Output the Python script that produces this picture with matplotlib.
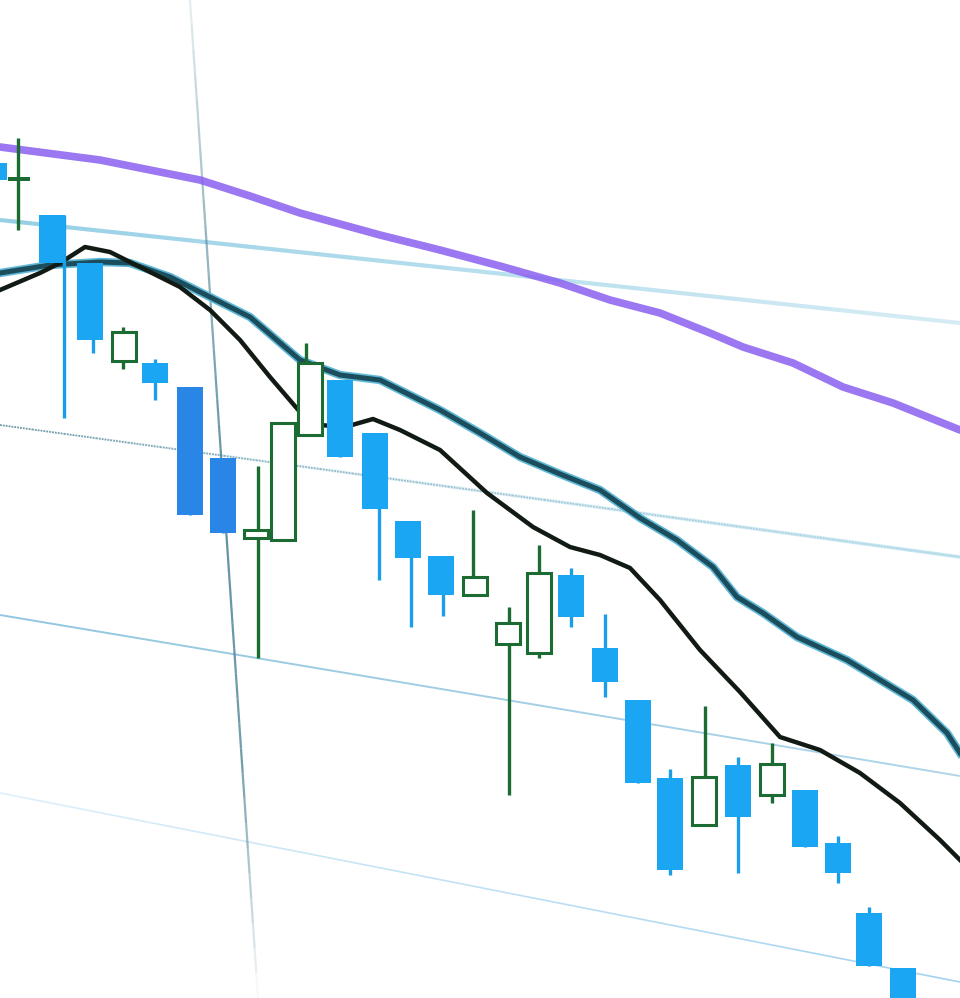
import matplotlib.pyplot as plt
import numpy as np
from matplotlib.collections import LineCollection
from matplotlib.colors import to_rgba

# screen-space candle values (y grows downward)
candle_x = [-6, 19, 52, 90, 124, 155, 190, 223, 256, 283, 310, 340, 375, 408, 441,
            475, 508, 539, 571, 605, 638, 670, 704, 738, 772, 805, 838, 869, 903]
wick_x = [-6, 18, 64, 93, 123, 155, 190, 223, 258, 283, 306, 340, 379, 411, 443,
          473, 509, 539, 571, 605, 638, 670, 705, 738, 772, 805, 838, 869, 903]
body_top = [163, 177, 215, 263, 332, 363, 387, 458, 530, 423, 363, 380, 433, 521, 556,
            577, 623, 573, 575, 648, 700, 778, 777, 765, 764, 790, 843, 913, 968]
body_bot = [180, 181, 263, 340, 361, 383, 515, 533, 538, 540, 435, 457, 509, 558, 595,
            595, 644, 653, 617, 682, 783, 870, 825, 817, 795, 847, 873, 966, 1010]
wick_top = [160, 138, 215, 263, 327, 359, 387, 458, 466, 423, 343, 380, 433, 521, 556,
            510, 607, 545, 568, 614, 700, 769, 706, 757, 743, 790, 836, 907, 968]
wick_bot = [183, 230, 418, 353, 369, 400, 515, 533, 658, 540, 435, 457, 580, 627, 616,
            595, 795, 658, 627, 697, 783, 875, 825, 873, 803, 847, 883, 966, 1010]
kind = ['down', 'cross', 'down', 'down', 'up', 'down', 'dark', 'dark', 'up', 'up', 'up',
        'down', 'down', 'down', 'down', 'up', 'up', 'up', 'down', 'down', 'down', 'down',
        'up', 'down', 'up', 'down', 'down', 'down', 'down']

# moving averages
purple_x = [0, 100, 200, 250, 300, 380, 440, 500, 560, 610, 660, 710, 743, 793, 843, 893, 960]
purple_y = [147, 160, 180, 196, 213, 235, 250, 266, 283, 300, 313, 333, 347, 363, 387, 403, 430]

teal_x = [0, 50, 100, 130, 170, 210, 250, 300, 340, 380, 400, 440, 480, 520, 560, 600,
          640, 677, 713, 737, 763, 797, 847, 880, 913, 947, 960]
teal_y = [273, 265, 262, 263, 277, 297, 317, 360, 375, 380, 390, 410, 433, 457, 474, 490,
          518, 540, 567, 597, 613, 637, 660, 680, 700, 733, 753]

black_x = [0, 40, 60, 85, 110, 140, 180, 210, 240, 270, 300, 320, 345, 373, 400, 440, 487,
           533, 570, 600, 630, 660, 700, 740, 780, 820, 860, 900, 940, 960]
black_y = [290, 273, 263, 247, 252, 267, 287, 310, 340, 377, 412, 425, 427, 419, 430, 450,
           493, 527, 547, 555, 568, 600, 650, 692, 737, 750, 773, 803, 840, 860]

# tilted grid lines (left edge y, right edge y)
grid_left = [220, 425, 615, 793]
grid_right = [323, 557, 776, 982]
vgrid_top, vgrid_bot = 190, 258

fig = plt.figure(figsize=(9.6, 9.98), dpi=100)
ax = fig.add_axes([0, 0, 1, 1])
ax.set_xlim(0, 960)
ax.set_ylim(998, 0)
ax.axis('off')


def fade_line(x0, y0, x1, y1, color, lw, alphas, ls='-', z=1):
    n = len(alphas)
    xs = np.linspace(x0, x1, n + 1)
    ys = np.linspace(y0, y1, n + 1)
    segs = [[(xs[i], ys[i]), (xs[i + 1], ys[i + 1])] for i in range(n)]
    cols = [to_rgba(color, a) for a in alphas]
    ax.add_collection(LineCollection(segs, colors=cols, linewidths=lw, linestyles=ls, zorder=z))


# grid
fade_line(0, grid_left[0], 960, grid_right[0], '#8ccbe3', 3.0, np.linspace(0.9, 0.35, 30))
fade_line(0, grid_left[1], 960, grid_right[1], '#5f8c9c', 1.3, np.linspace(0.9, 0.3, 30), ls=(0, (1, 0.6)))
fade_line(0, grid_left[1], 960, grid_right[1], '#9fd6ea', 2.5, np.linspace(0.0, 0.6, 30))
fade_line(0, grid_left[2], 960, grid_right[2], '#6fb4d6', 1.4, np.linspace(0.75, 0.55, 30))
fade_line(0, grid_left[3], 960, grid_right[3], '#7cc0ea', 1.2, np.linspace(0.25, 0.7, 30))
va = np.concatenate([np.linspace(0.15, 0.6, 10), np.linspace(0.6, 0.9, 10),
                     np.linspace(0.9, 0.8, 10), np.linspace(0.8, 0.05, 10)])
fade_line(vgrid_top, 0, vgrid_bot, 998, '#4f8596', 1.6, va)

# moving averages
ax.plot(purple_x, purple_y, color='#8a5ff0', lw=5.5, alpha=0.85, solid_capstyle='round', zorder=3)
ax.plot(teal_x, teal_y, color='#5fb7d6', lw=6, zorder=3)
ax.plot(teal_x, teal_y, color='#1c4d5c', lw=3.6, zorder=3)
ax.plot(black_x, black_y, color='#121a14', lw=3.2, zorder=4)

# candles
colors = {'down': '#1aa6f2', 'dark': '#2a86e6', 'up': '#1b6b32', 'cross': '#1b6b32'}
for i in range(len(candle_x)):
    c = colors[kind[i]]
    wc = '#1a9ee8' if kind[i] in ('down', 'dark') else c
    ax.plot([wick_x[i], wick_x[i]], [wick_top[i], wick_bot[i]], color=wc, lw=2.4,
            solid_capstyle='butt', zorder=5)
    h = body_bot[i] - body_top[i]
    if kind[i] == 'up':
        ax.bar(candle_x[i], h, bottom=body_top[i], width=24, facecolor='white',
               edgecolor=c, linewidth=2.2, zorder=6)
    elif kind[i] == 'cross':
        ax.bar(candle_x[i], h, bottom=body_top[i], width=22, color=c, zorder=6)
    else:
        ax.bar(candle_x[i], h, bottom=body_top[i], width=26, color=c, zorder=6)

fig.savefig('out.png', dpi=100)
